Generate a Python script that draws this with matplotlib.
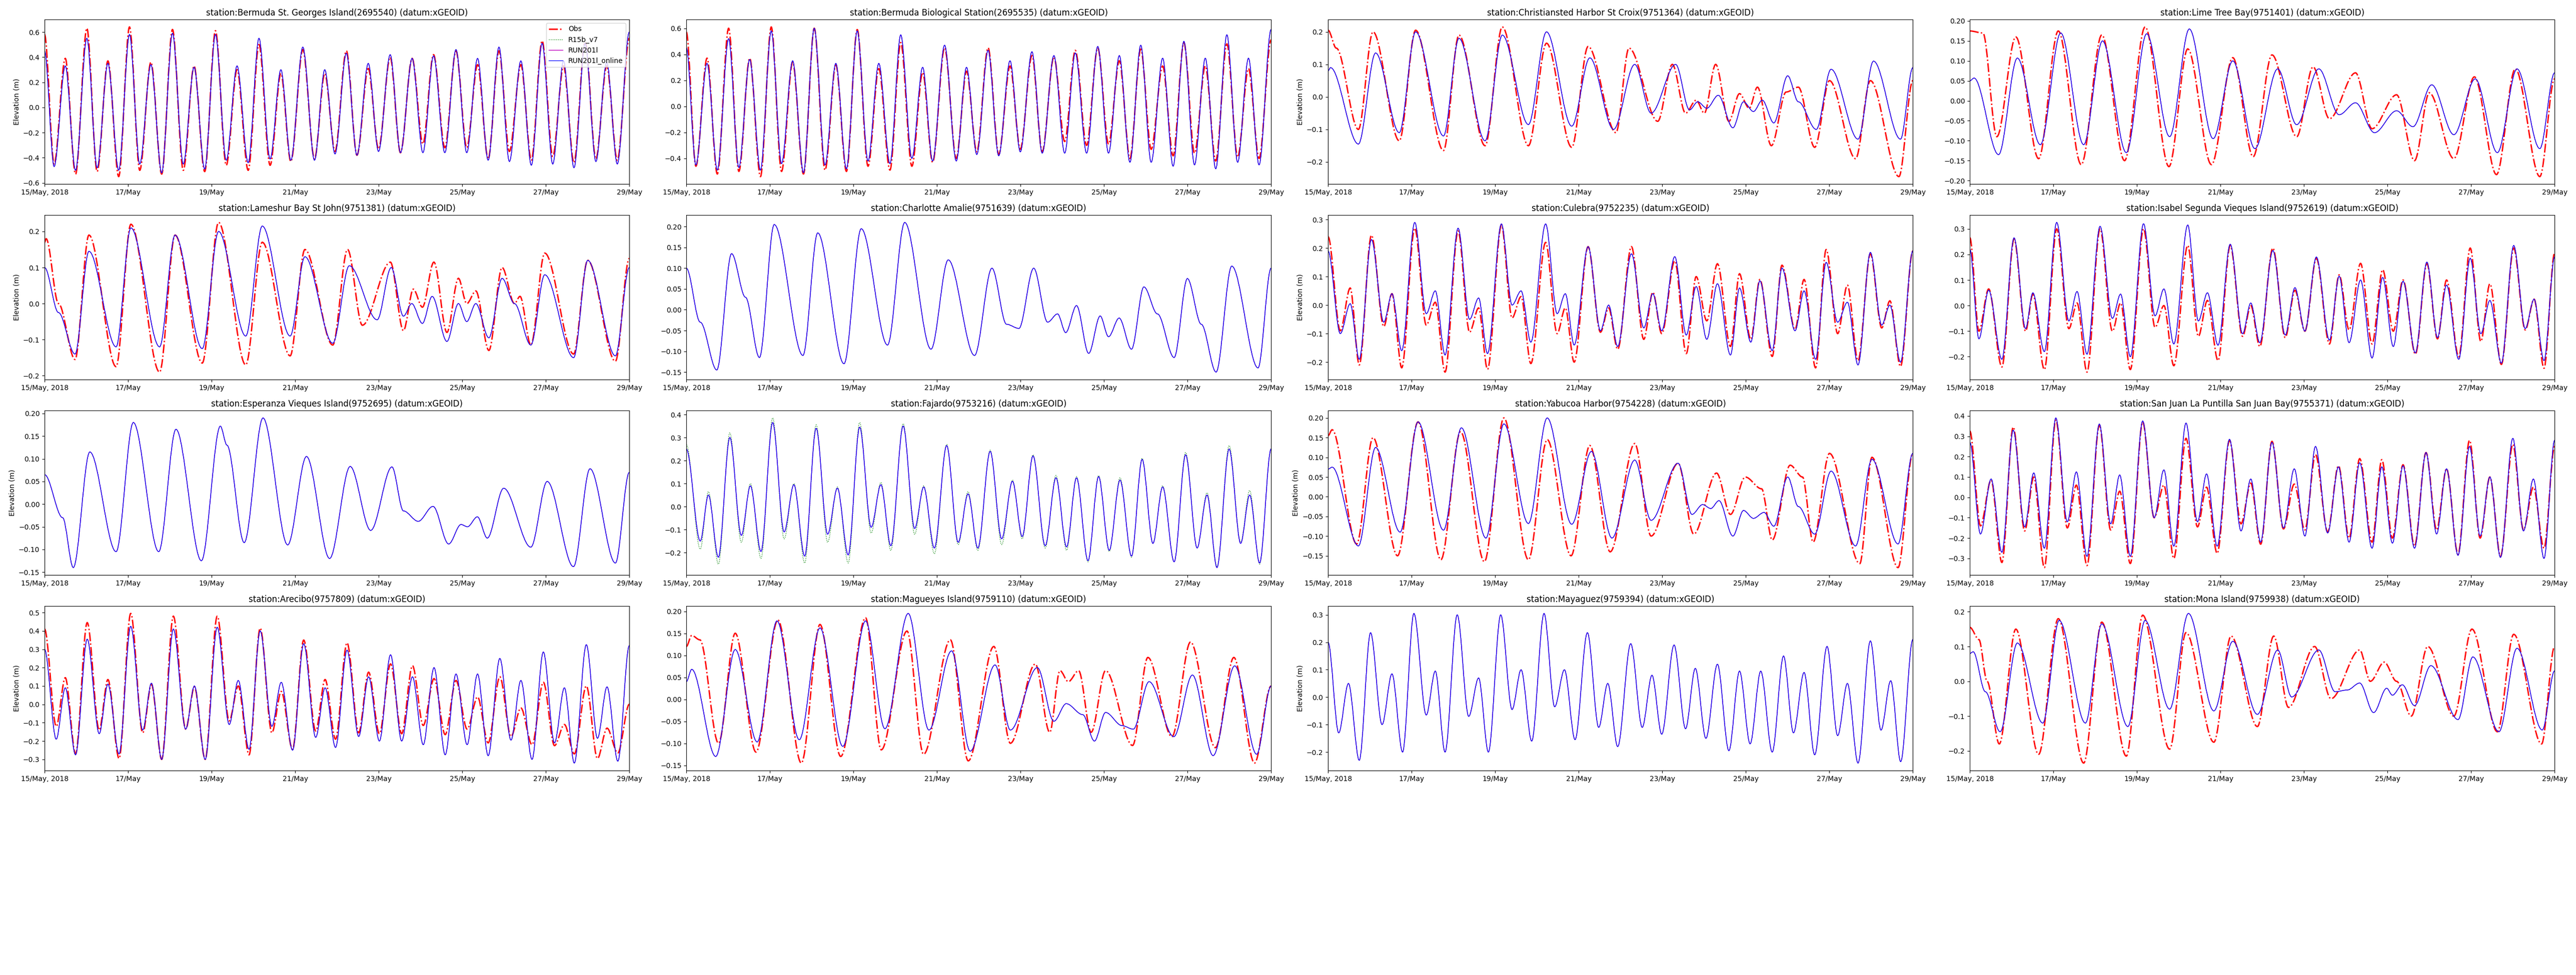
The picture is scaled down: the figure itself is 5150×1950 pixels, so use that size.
import numpy as np
import matplotlib
matplotlib.use("Agg")
import matplotlib.pyplot as plt
from matplotlib.gridspec import GridSpec
from matplotlib.lines import Line2D
from matplotlib.path import Path
from matplotlib.patches import PathPatch

# turning points (hours after 15/May 00:00, elevation in m)

T_BDA = [0, 5.5, 11.9, 17.8, 24.3, 30.2, 36.4, 42.6, 48.8, 54.7,
         61.1, 67.3, 73.5, 79.7, 85.9, 92.0, 98.2, 104.4, 110.6, 117.0,
         123.2, 129.6, 135.8, 141.5, 148.4, 155.1, 161.0, 166.9, 173.4, 179.5,
         186.0, 191.9, 198.6, 204.5, 211.2, 217.4, 223.5, 230.0, 236.4, 242.6,
         248.8, 254.9, 261.1, 267.1, 273.7, 279.7, 285.9, 292.0, 298.2, 304.2,
         310.6, 316.8, 323.0, 329.1, 336]

M_BDA_SG = [0.45, -0.47, 0.33, -0.50, 0.55, -0.48, 0.35, -0.50, 0.58, -0.45,
            0.34, -0.52, 0.59, -0.45, 0.32, -0.49, 0.58, -0.42, 0.33, -0.44,
            0.55, -0.41, 0.30, -0.42, 0.48, -0.42, 0.30, -0.37, 0.43, -0.38,
            0.35, -0.35, 0.42, -0.36, 0.39, -0.36, 0.41, -0.36, 0.46, -0.36,
            0.39, -0.42, 0.48, -0.43, 0.37, -0.46, 0.51, -0.45, 0.37, -0.48,
            0.51, -0.43, 0.36, -0.45, 0.60]
O_BDA_SG = [0.58, -0.45, 0.39, -0.53, 0.63, -0.51, 0.37, -0.55, 0.64, -0.50,
            0.36, -0.53, 0.62, -0.50, 0.33, -0.51, 0.61, -0.46, 0.30, -0.50,
            0.50, -0.46, 0.27, -0.43, 0.46, -0.41, 0.27, -0.35, 0.45, -0.38,
            0.31, -0.33, 0.40, -0.36, 0.39, -0.29, 0.42, -0.32, 0.45, -0.32,
            0.34, -0.41, 0.45, -0.35, 0.34, -0.42, 0.53, -0.39, 0.33, -0.44,
            0.52, -0.41, 0.33, -0.42, 0.55]

M_BDA_BIO = [0.45, -0.45, 0.33, -0.49, 0.52, -0.47, 0.36, -0.49, 0.58, -0.44,
             0.35, -0.51, 0.60, -0.45, 0.33, -0.48, 0.58, -0.42, 0.33, -0.44,
             0.55, -0.40, 0.30, -0.42, 0.47, -0.42, 0.30, -0.37, 0.43, -0.38,
             0.35, -0.35, 0.42, -0.36, 0.39, -0.36, 0.41, -0.36, 0.46, -0.36,
             0.39, -0.43, 0.47, -0.43, 0.37, -0.46, 0.50, -0.45, 0.37, -0.48,
             0.55, -0.43, 0.37, -0.45, 0.59]
O_BDA_BIO = [0.57, -0.46, 0.37, -0.52, 0.60, -0.50, 0.37, -0.54, 0.61, -0.50,
             0.34, -0.52, 0.60, -0.49, 0.32, -0.50, 0.59, -0.46, 0.29, -0.49,
             0.49, -0.46, 0.26, -0.43, 0.45, -0.40, 0.27, -0.35, 0.45, -0.37,
             0.31, -0.33, 0.39, -0.35, 0.38, -0.27, 0.43, -0.30, 0.45, -0.29,
             0.35, -0.40, 0.44, -0.33, 0.31, -0.38, 0.49, -0.36, 0.31, -0.42,
             0.48, -0.39, 0.29, -0.40, 0.51]

TM_CHR = [0, 1.4, 17.4, 27.3, 40.9, 50.3, 66.3, 75.2, 90.2, 100.1,
          115.1, 125.5, 140.0, 150.4, 164.0, 176.2, 185.6, 199.7, 207.7, 212.4,
          217.6, 224.2, 232.6, 238.7, 244.4, 249.5, 256.1, 264.1, 270.2, 280.5,
          289.0, 304.5, 313.4, 328.9, 336]
M_CHR = [0.08, 0.09, -0.145, 0.135, -0.11, 0.20, -0.12, 0.18, -0.135, 0.19,
         -0.085, 0.20, -0.09, 0.12, -0.10, 0.10, -0.05, 0.10, -0.04, -0.015,
         -0.035, 0.005, -0.095, -0.015, -0.045, -0.01, -0.08, 0.065, -0.015, -0.10,
         0.085, -0.13, 0.11, -0.13, 0.09]
TO_CHR = [0, 4.7, 17.4, 25.8, 40.9, 50.3, 66.3, 75.2, 90.2, 100.1,
          115.1, 125.5, 140.0, 149.4, 165.4, 172.9, 189.4, 197.8, 205.4, 211.5,
          216.2, 222.7, 230.3, 236.4, 242.0, 246.7, 254.7, 263.2, 270.2, 279.6,
          288.1, 303.1, 311.6, 328.0, 336]
O_CHR = [0.205, 0.15, -0.10, 0.20, -0.135, 0.205, -0.165, 0.19, -0.15, 0.215,
         -0.15, 0.165, -0.155, 0.155, -0.11, 0.15, -0.075, 0.10, -0.05, -0.01,
         -0.05, 0.10, -0.075, 0.01, -0.035, 0.03, -0.15, 0.015, 0.03, -0.155,
         0.05, -0.19, 0.05, -0.245, 0.05]

TM_LTB = [0, 2.4, 16.5, 27.3, 40.5, 52.2, 65.4, 76.2, 89.9, 101.6,
          114.8, 126.1, 139.8, 151.1, 163.8, 176.9, 187.8, 200.5, 212.2, 221.6,
          232.5, 245.2, 254.6, 265.4, 278.1, 290.4, 303.1, 314.4, 327.5, 336]
M_LTB = [0.05, 0.057, -0.135, 0.107, -0.11, 0.17, -0.11, 0.15, -0.13, 0.168,
         -0.09, 0.18, -0.095, 0.10, -0.12, 0.08, -0.06, 0.08, -0.035, -0.005,
         -0.08, -0.025, -0.065, 0.04, -0.085, 0.055, -0.13, 0.08, -0.12, 0.07]
TO_LTB = [0, 7.5, 15.5, 26.4, 39.5, 50.8, 64.0, 75.8, 88.9, 100.7,
          114.4, 125.2, 138.8, 151.1, 162.8, 173.6, 187.8, 197.2, 206.6, 221.6,
          231.1, 245.2, 255.5, 264.0, 278.1, 289.9, 302.6, 313.4, 327.5, 336]
O_LTB = [0.175, 0.17, -0.09, 0.16, -0.145, 0.175, -0.16, 0.165, -0.15, 0.185,
         -0.165, 0.13, -0.16, 0.108, -0.14, 0.115, -0.09, 0.085, -0.045, 0.07,
         -0.07, 0.015, -0.15, 0.02, -0.145, 0.06, -0.185, 0.08, -0.19, 0.055]

TM_LAM = [0, 8.0, 17.5, 25.5, 41.1, 49.6, 66.1, 75.0, 90.6, 100.0,
          115.6, 125.1, 141.1, 149.6, 165.6, 175.1, 191.1, 199.2, 206.2, 211.0,
          217.1, 222.7, 231.2, 237.8, 242.6, 247.8, 255.3, 262.9, 270.0, 279.4,
          287.4, 304.0, 312.1, 328.0, 336]
M_LAM = [0.10, -0.025, -0.14, 0.145, -0.12, 0.21, -0.12, 0.19, -0.125, 0.20,
         -0.09, 0.215, -0.09, 0.13, -0.11, 0.105, -0.045, 0.10, -0.035, 0.0,
         -0.055, 0.02, -0.105, 0.0, -0.05, 0.0, -0.095, 0.07, 0.0, -0.115,
         0.08, -0.15, 0.12, -0.145, 0.10]
TO_LAM = [0, 0.9, 8.0, 17.5, 25.5, 41.1, 49.6, 66.1, 75.0, 90.6,
          100.0, 115.6, 125.1, 141.1, 149.6, 165.6, 174.1, 182.6, 198.7, 206.2,
          211.9, 217.1, 223.7, 231.2, 237.8, 242.6, 247.8, 255.3, 262.9, 270.0,
          273.2, 279.4, 287.4, 304.0, 312.1, 328.0, 336]
O_LAM = [0.17, 0.18, 0.0, -0.155, 0.19, -0.175, 0.22, -0.19, 0.19, -0.165,
         0.225, -0.17, 0.17, -0.145, 0.15, -0.115, 0.15, -0.06, 0.115, -0.075,
         0.04, -0.01, 0.115, -0.08, 0.07, 0.0, 0.035, -0.13, 0.10, 0.0,
         0.02, -0.115, 0.14, -0.14, 0.12, -0.16, 0.125]

TM_CHA = [0, 8.0, 17.5, 26.0, 34.0, 42.0, 50.5, 67.0, 75.5, 90.6,
          100.5, 115.6, 125.5, 140.6, 150.5, 165.6, 175.6, 184.0, 191.1, 199.6,
          207.6, 213.3, 218.0, 224.2, 231.2, 237.8, 242.6, 248.7, 255.8, 262.9,
          270.7, 280.3, 287.9, 295.9, 304.4, 313.4, 328.5, 336]
M_CHA = [0.10, -0.03, -0.145, 0.135, 0.03, -0.115, 0.205, -0.11, 0.185, -0.13,
         0.195, -0.085, 0.21, -0.095, 0.12, -0.11, 0.10, -0.035, -0.045, 0.10,
         -0.03, -0.01, -0.055, 0.01, -0.105, -0.015, -0.065, -0.02, -0.095, 0.055,
         -0.01, -0.115, 0.075, -0.035, -0.15, 0.105, -0.14, 0.10]

T_CUL = [0, 7.0, 12.7, 17.9, 24.9, 32.0, 36.7, 42.3, 49.8, 56.4,
         61.6, 67.2, 74.7, 81.3, 86.5, 91.6, 99.6, 105.7, 110.9, 116.5,
         125.0, 131.6, 136.3, 141.4, 149.4, 156.5, 161.2, 166.4, 174.3, 181.4,
         186.6, 191.7, 199.2, 205.8, 211.5, 217.6, 223.7, 231.2, 236.4, 242.9,
         248.1, 255.2, 260.8, 268.3, 273.5, 280.1, 286.2, 292.8, 298.4, 304.5,
         311.6, 318.1, 322.8, 328.9, 336]
M_CUL = [0.19, -0.10, 0.005, -0.19, 0.23, -0.06, 0.04, -0.16, 0.29, -0.03,
         0.05, -0.175, 0.27, -0.05, 0.025, -0.17, 0.285, 0.0, 0.05, -0.13,
         0.285, -0.03, 0.04, -0.14, 0.205, -0.09, 0.0, -0.145, 0.18, -0.08,
         0.04, -0.09, 0.17, -0.105, 0.065, -0.12, 0.075, -0.175, 0.06, -0.13,
         0.085, -0.16, 0.13, -0.09, 0.05, -0.19, 0.15, -0.06, 0.01, -0.21,
         0.185, -0.07, 0.0, -0.20, 0.19]
O_CUL = [0.24, -0.09, 0.06, -0.21, 0.245, -0.075, 0.04, -0.22, 0.27, -0.07,
         0.01, -0.235, 0.26, -0.095, -0.01, -0.225, 0.28, -0.045, 0.03, -0.205,
         0.22, -0.10, -0.01, -0.20, 0.205, -0.095, -0.01, -0.155, 0.205, -0.12,
         0.045, -0.10, 0.155, -0.17, 0.10, -0.055, 0.145, -0.145, 0.11, -0.12,
         0.09, -0.18, 0.14, -0.085, 0.09, -0.22, 0.195, -0.10, 0.07, -0.195,
         0.18, -0.08, 0.015, -0.215, 0.19]

T_ISA = [0, 5.2, 10.8, 18.4, 25.4, 32.0, 36.2, 42.8, 49.9, 56.9,
         61.6, 67.3, 74.8, 81.9, 86.6, 92.2, 99.8, 106.4, 111.5, 117.2,
         125.2, 131.3, 136.5, 142.6, 149.6, 156.7, 161.4, 166.6, 174.1, 181.2,
         186.8, 192.5, 199.1, 206.6, 212.2, 217.9, 224.5, 231.1, 237.2, 243.3,
         248.9, 256.0, 262.6, 268.7, 273.9, 280.9, 287.5, 293.6, 298.8, 305.4,
         312.5, 319.1, 324.2, 329.9, 336]
M_ISA = [0.22, -0.13, 0.06, -0.21, 0.265, -0.09, 0.05, -0.18, 0.325, -0.06,
         0.055, -0.19, 0.31, -0.05, 0.045, -0.20, 0.32, -0.04, 0.065, -0.15,
         0.315, -0.06, 0.05, -0.155, 0.24, -0.11, 0.01, -0.145, 0.215, -0.115,
         0.07, -0.10, 0.19, -0.135, 0.115, -0.145, 0.10, -0.205, 0.11, -0.16,
         0.095, -0.185, 0.17, -0.125, 0.08, -0.21, 0.185, -0.11, 0.02, -0.225,
         0.235, -0.09, 0.025, -0.215, 0.19]
O_ISA = [0.265, -0.10, 0.065, -0.24, 0.26, -0.10, 0.045, -0.25, 0.30, -0.09,
         0.01, -0.26, 0.30, -0.10, 0.01, -0.25, 0.30, -0.085, 0.0, -0.235,
         0.235, -0.12, 0.02, -0.215, 0.235, -0.12, 0.0, -0.16, 0.225, -0.125,
         0.06, -0.10, 0.185, -0.15, 0.12, -0.095, 0.165, -0.15, 0.14, -0.10,
         0.10, -0.19, 0.165, -0.13, 0.10, -0.20, 0.225, -0.14, 0.085, -0.23,
         0.225, -0.095, 0.025, -0.245, 0.205]

TM_ESP = [0, 10.4, 16.5, 26.0, 41.1, 51.0, 65.6, 75.5, 90.1, 101.0,
          104.8, 114.7, 125.5, 139.7, 150.5, 163.8, 175.6, 187.4, 199.6, 206.2,
          214.7, 223.2, 232.2, 239.3, 243.0, 248.7, 254.4, 263.8, 279.4, 288.8,
          303.9, 313.4, 328.0, 336]
M_ESP = [0.065, -0.03, -0.14, 0.115, -0.105, 0.18, -0.105, 0.165, -0.125, 0.172,
         0.13, -0.085, 0.19, -0.09, 0.105, -0.12, 0.083, -0.058, 0.082, -0.015,
         -0.038, -0.005, -0.088, -0.045, -0.05, -0.028, -0.075, 0.035, -0.095, 0.05,
         -0.138, 0.078, -0.13, 0.07]

T_FAJ = [0, 8.0, 12.7, 18.4, 25.0, 31.6, 36.8, 42.9, 49.6, 56.2,
         61.8, 68.0, 74.6, 81.2, 86.8, 93.0, 99.6, 106.2, 111.8, 117.5,
         124.6, 131.2, 136.4, 142.5, 149.6, 156.2, 161.9, 167.5, 174.6, 181.2,
         187.4, 193.0, 199.2, 206.2, 212.4, 218.5, 224.2, 230.8, 236.9, 243.0,
         249.2, 255.8, 261.9, 268.1, 273.7, 280.3, 286.9, 293.5, 299.2, 304.9,
         311.9, 318.5, 323.7, 329.4, 336]
M_FAJ = [0.25, -0.15, 0.05, -0.22, 0.30, -0.125, 0.09, -0.195, 0.365, -0.11,
         0.095, -0.215, 0.34, -0.12, 0.08, -0.21, 0.345, -0.09, 0.095, -0.17,
         0.35, -0.095, 0.085, -0.18, 0.265, -0.155, 0.055, -0.18, 0.24, -0.14,
         0.11, -0.13, 0.22, -0.17, 0.125, -0.175, 0.125, -0.235, 0.13, -0.19,
         0.115, -0.215, 0.205, -0.16, 0.085, -0.24, 0.225, -0.18, 0.05, -0.265,
         0.25, -0.16, 0.05, -0.245, 0.25]
G_FAJ = [0.27, -0.185, 0.065, -0.25, 0.32, -0.155, 0.10, -0.225, 0.385, -0.14,
         0.10, -0.245, 0.355, -0.155, 0.085, -0.245, 0.365, -0.115, 0.105, -0.19,
         0.36, -0.12, 0.09, -0.205, 0.27, -0.165, 0.065, -0.19, 0.245, -0.165,
         0.115, -0.14, 0.225, -0.18, 0.135, -0.19, 0.13, -0.24, 0.135, -0.195,
         0.125, -0.22, 0.21, -0.16, 0.09, -0.24, 0.235, -0.18, 0.06, -0.26,
         0.265, -0.155, 0.07, -0.25, 0.25]

TM_YAB = [0, 2.3, 17.4, 27.3, 41.4, 51.7, 66.3, 76.6, 90.7, 101.0,
          115.1, 125.9, 140.0, 151.3, 163.1, 176.2, 185.6, 201.1, 209.1, 215.2,
          219.9, 224.6, 232.6, 238.7, 244.4, 250.5, 256.1, 264.1, 270.2, 279.6,
          289.0, 303.1, 312.5, 327.5, 336]
M_YAB = [0.07, 0.075, -0.125, 0.125, -0.09, 0.19, -0.085, 0.175, -0.105, 0.185,
         -0.068, 0.20, -0.07, 0.115, -0.105, 0.093, -0.06, 0.085, -0.045, -0.02,
         -0.03, -0.01, -0.10, -0.035, -0.055, -0.04, -0.075, 0.05, -0.025, -0.095,
         0.065, -0.125, 0.095, -0.12, 0.11]
TO_YAB = [0, 2.3, 16.4, 25.8, 39.9, 51.7, 64.8, 76.1, 89.8, 101.0,
          115.1, 125.9, 139.6, 150.4, 162.1, 176.2, 185.6, 201.1, 210.1, 223.2,
          231.2, 239.7, 249.1, 255.2, 265.5, 272.6, 278.7, 288.1, 305.5, 312.5,
          327.5, 336]
O_YAB = [0.155, 0.17, -0.12, 0.15, -0.15, 0.19, -0.16, 0.165, -0.165, 0.20,
         -0.16, 0.145, -0.15, 0.13, -0.14, 0.135, -0.10, 0.085, -0.095, 0.06,
         -0.045, 0.05, 0.02, -0.11, 0.08, 0.05, -0.115, 0.11, -0.17, 0.10,
         -0.18, 0.11]

T_SJU = [0, 6.1, 12.2, 18.4, 24.9, 31.5, 36.7, 42.8, 49.4, 56.0,
         61.2, 67.3, 74.4, 80.9, 86.1, 92.2, 99.3, 105.9, 111.5, 117.2,
         124.2, 130.8, 136.0, 142.1, 149.2, 155.8, 161.4, 167.1, 173.6, 180.2,
         186.4, 192.5, 198.6, 205.6, 211.8, 217.9, 224.0, 231.1, 236.7, 242.8,
         248.9, 255.5, 262.1, 268.2, 273.9, 280.5, 287.1, 293.2, 298.8, 304.9,
         312.0, 318.1, 323.8, 329.9, 336]
M_SJU = [0.27, -0.18, 0.09, -0.27, 0.33, -0.145, 0.12, -0.25, 0.39, -0.12,
         0.125, -0.29, 0.36, -0.13, 0.11, -0.29, 0.375, -0.10, 0.135, -0.24,
         0.365, -0.12, 0.115, -0.24, 0.285, -0.165, 0.09, -0.22, 0.27, -0.15,
         0.14, -0.19, 0.25, -0.175, 0.15, -0.22, 0.17, -0.25, 0.15, -0.225,
         0.155, -0.25, 0.22, -0.18, 0.14, -0.285, 0.25, -0.19, 0.10, -0.295,
         0.29, -0.165, 0.09, -0.30, 0.28]
O_SJU = [0.325, -0.14, 0.085, -0.32, 0.345, -0.165, 0.10, -0.345, 0.38, -0.15,
         0.06, -0.335, 0.355, -0.16, 0.03, -0.325, 0.37, -0.10, 0.06, -0.30,
         0.29, -0.145, 0.05, -0.275, 0.28, -0.13, 0.07, -0.23, 0.275, -0.155,
         0.065, -0.16, 0.21, -0.17, 0.155, -0.20, 0.19, -0.22, 0.185, -0.20,
         0.16, -0.24, 0.22, -0.16, 0.14, -0.28, 0.28, -0.20, 0.10, -0.29,
         0.26, -0.16, 0.05, -0.25, 0.25]

T_ARE = [0, 6.7, 11.9, 17.8, 24.5, 31.4, 36.4, 42.8, 49.5, 56.4,
         61.4, 67.3, 74.0, 81.1, 86.1, 92.3, 99.2, 106.1, 111.3, 117.5,
         123.9, 130.6, 136.0, 142.5, 148.9, 155.8, 161.2, 167.2, 173.8, 180.5,
         186.2, 192.4, 198.8, 205.2, 211.4, 217.6, 223.8, 230.2, 236.4, 242.8,
         248.8, 254.9, 261.6, 268.0, 273.7, 280.1, 286.6, 293.0, 298.7, 304.4,
         311.3, 317.7, 323.2, 329.4, 336]
M_ARE = [0.30, -0.19, 0.09, -0.275, 0.355, -0.16, 0.11, -0.27, 0.425, -0.14,
         0.115, -0.30, 0.41, -0.135, 0.10, -0.30, 0.42, -0.11, 0.13, -0.245,
         0.40, -0.12, 0.12, -0.25, 0.33, -0.18, 0.09, -0.235, 0.295, -0.175,
         0.15, -0.20, 0.27, -0.20, 0.15, -0.22, 0.20, -0.275, 0.165, -0.22,
         0.165, -0.28, 0.25, -0.195, 0.13, -0.30, 0.285, -0.21, 0.09, -0.32,
         0.325, -0.185, 0.095, -0.31, 0.32]
O_ARE = [0.41, -0.12, 0.145, -0.27, 0.445, -0.14, 0.135, -0.295, 0.495, -0.155,
         0.11, -0.30, 0.48, -0.135, 0.095, -0.30, 0.48, -0.09, 0.10, -0.275,
         0.415, -0.155, 0.07, -0.245, 0.35, -0.145, 0.135, -0.19, 0.335, -0.155,
         0.175, -0.16, 0.22, -0.16, 0.21, -0.115, 0.14, -0.165, 0.13, -0.135,
         0.04, -0.21, 0.15, -0.175, -0.02, -0.22, 0.12, -0.225, -0.11, -0.27,
         0.10, -0.295, -0.13, -0.265, 0.0]

TM_MAG = [0, 3.1, 16.9, 28.1, 40.7, 52.1, 64.9, 76.8, 89.9, 103.0,
          114.1, 127.5, 139.4, 152.4, 163.1, 177.4, 186.2, 201.7, 211.2, 218.3,
          227.8, 234.5, 240.9, 250.4, 256.8, 265.9, 280.1, 290.8, 302.7, 315.1,
          327.7, 336]
M_MAG = [0.04, 0.068, -0.13, 0.113, -0.097, 0.178, -0.092, 0.162, -0.107, 0.178,
         -0.067, 0.195, -0.07, 0.11, -0.118, 0.078, -0.07, 0.072, -0.05, -0.01,
         -0.035, -0.095, -0.03, -0.06, -0.068, 0.04, -0.085, 0.055, -0.128, 0.076,
         -0.125, 0.03]
TO_MAG = [0, 3.1, 7.8, 18.5, 28.1, 40.0, 52.6, 66.1, 76.8, 88.7,
          103.0, 112.0, 126.8, 136.3, 151.7, 162.0, 176.7, 186.2, 200.5, 208.8,
          214.7, 219.5, 225.4, 232.6, 240.9, 256.4, 265.2, 279.0, 289.7, 304.0,
          314.6, 326.5, 336]
O_MAG = [0.12, 0.145, 0.135, -0.10, 0.15, -0.12, 0.18, -0.145, 0.17, -0.13,
         0.185, -0.115, 0.155, -0.125, 0.135, -0.14, 0.12, -0.10, 0.08, -0.075,
         0.065, 0.04, 0.065, -0.075, 0.065, -0.105, 0.095, -0.085, 0.13, -0.11,
         0.095, -0.145, 0.03]

T_MAY = [0, 6.1, 11.7, 17.9, 24.4, 31.0, 36.7, 42.8, 49.3, 56.4,
         61.6, 67.2, 74.2, 80.8, 86.5, 92.1, 99.2, 105.7, 110.9, 117.0,
         124.1, 130.2, 135.8, 141.9, 149.0, 155.5, 160.7, 166.4, 173.9, 180.5,
         186.1, 191.7, 198.8, 205.4, 211.0, 217.1, 223.7, 230.3, 236.4, 242.5,
         248.6, 255.2, 261.7, 267.4, 273.5, 279.6, 286.7, 292.8, 298.4, 304.5,
         311.6, 317.7, 323.3, 329.0, 336]
M_MAY = [0.20, -0.13, 0.05, -0.23, 0.235, -0.10, 0.085, -0.20, 0.305, -0.065,
         0.095, -0.20, 0.30, -0.07, 0.07, -0.20, 0.30, -0.045, 0.10, -0.16,
         0.305, -0.035, 0.10, -0.155, 0.235, -0.11, 0.05, -0.18, 0.195, -0.11,
         0.08, -0.135, 0.19, -0.115, 0.105, -0.15, 0.12, -0.195, 0.095, -0.17,
         0.095, -0.20, 0.15, -0.13, 0.09, -0.21, 0.185, -0.14, 0.05, -0.24,
         0.205, -0.12, 0.06, -0.235, 0.21]

TM_MON = [0, 1.9, 8.9, 17.4, 27.3, 41.9, 51.3, 66.4, 75.8, 90.8,
          100.7, 114.8, 125.6, 140.2, 151.1, 165.2, 176.9, 184.9, 200.5, 209.9,
          216.9, 224.0, 232.0, 239.5, 242.8, 248.5, 255.5, 264.9, 280.5, 289.0,
          304.0, 314.4, 328.9, 336]
M_MON = [0.08, 0.085, -0.03, -0.145, 0.11, -0.12, 0.175, -0.12, 0.165, -0.13,
         0.175, -0.08, 0.195, -0.085, 0.115, -0.095, 0.09, -0.045, 0.09, -0.03,
         -0.025, -0.005, -0.09, -0.02, -0.04, -0.01, -0.07, 0.045, -0.11, 0.07,
         -0.145, 0.095, -0.14, 0.03]
TO_MON = [0, 5.2, 9.9, 16.9, 26.4, 39.5, 50.8, 65.4, 75.8, 89.9,
          99.3, 114.8, 124.2, 140.2, 150.1, 165.2, 174.6, 183.1, 198.1, 207.5,
          224.0, 230.1, 238.1, 245.2, 253.6, 263.1, 278.1, 288.5, 303.1, 312.5,
          328.5, 336]
O_MON = [0.155, 0.12, 0.0, -0.18, 0.15, -0.21, 0.18, -0.235, 0.17, -0.215,
         0.19, -0.195, 0.14, -0.175, 0.13, -0.13, 0.13, -0.075, 0.10, -0.05,
         0.09, 0.0, 0.055, 0.0, -0.10, 0.10, -0.10, 0.15, -0.145, 0.135,
         -0.18, 0.10]

TICK_DAYS = [0, 2, 4, 6, 8, 10, 12, 14]
TICK_LABELS = ["15/May, 2018", "17/May", "19/May", "21/May",
               "23/May", "25/May", "27/May", "29/May"]
SERIES = ["Obs", "R15b_v7", "RUN201l", "RUN201l_online"]

# (title, model, obs, R15b_v7 if it differs from the model)
STATIONS = [
    ("Bermuda St. Georges Island(2695540)", (T_BDA, M_BDA_SG), (T_BDA, O_BDA_SG), None),
    ("Bermuda Biological Station(2695535)", (T_BDA, M_BDA_BIO), (T_BDA, O_BDA_BIO), None),
    ("Christiansted Harbor St Croix(9751364)", (TM_CHR, M_CHR), (TO_CHR, O_CHR), None),
    ("Lime Tree Bay(9751401)", (TM_LTB, M_LTB), (TO_LTB, O_LTB), None),
    ("Lameshur Bay St John(9751381)", (TM_LAM, M_LAM), (TO_LAM, O_LAM), None),
    ("Charlotte Amalie(9751639)", (TM_CHA, M_CHA), None, None),
    ("Culebra(9752235)", (T_CUL, M_CUL), (T_CUL, O_CUL), None),
    ("Isabel Segunda Vieques Island(9752619)", (T_ISA, M_ISA), (T_ISA, O_ISA), None),
    ("Esperanza Vieques Island(9752695)", (TM_ESP, M_ESP), None, None),
    ("Fajardo(9753216)", (T_FAJ, M_FAJ), None, (T_FAJ, G_FAJ)),
    ("Yabucoa Harbor(9754228)", (TM_YAB, M_YAB), (TO_YAB, O_YAB), None),
    ("San Juan La Puntilla San Juan Bay(9755371)", (T_SJU, M_SJU), (T_SJU, O_SJU), None),
    ("Arecibo(9757809)", (T_ARE, M_ARE), (T_ARE, O_ARE), None),
    ("Magueyes Island(9759110)", (TM_MAG, M_MAG), (TO_MAG, O_MAG), None),
    ("Mayaguez(9759394)", (T_MAY, M_MAY), None, None),
    ("Mona Island(9759938)", (TM_MON, M_MON), (TO_MON, O_MON), None),
]

STYLE = {
    "Obs": dict(color="r", linestyle="-.", linewidth=2),
    "R15b_v7": dict(color="g", linestyle=":", linewidth=1),
    "RUN201l": dict(color="m", linestyle="-", linewidth=1),
    "RUN201l_online": dict(color="b", linestyle="-", linewidth=0.9),
}


def tide_path(t, v):
    """
    Smooth path through the turning points: cubic segments with a flat
    tangent at every high / low water.
    """
    t = np.asarray(t, dtype=float)
    v = np.asarray(v, dtype=float)
    verts = [(t[0], v[0])]
    codes = [Path.MOVETO]
    for i in range(len(t) - 1):
        dt = t[i + 1] - t[i]
        verts += [(t[i] + dt / 3, v[i]), (t[i + 1] - dt / 3, v[i + 1]), (t[i + 1], v[i + 1])]
        codes += [Path.CURVE4] * 3
    return Path(verts, codes)


def series__draw(ax, tv, key):
    ax.add_patch(PathPatch(tide_path(*tv), fill=False, capstyle="butt", **STYLE[key]))


def station__plot(ax, name, model, obs, green, ylabel=False, legend=False):
    if obs is not None:
        series__draw(ax, obs, "Obs")
    series__draw(ax, model if green is None else green, "R15b_v7")
    series__draw(ax, model, "RUN201l")
    series__draw(ax, model, "RUN201l_online")
    ax.autoscale_view()

    ticks = np.array(TICK_DAYS) * 24
    ax.set_xlim(ticks[0], ticks[-1])
    ax.set_xticks(ticks)
    ax.set_xticklabels(TICK_LABELS)
    ax.set_title("station:" + name + " (datum:xGEOID)", fontsize=12)
    if ylabel:
        ax.set_ylabel("Elevation (m)")
    if legend:
        handles = [Line2D([], [], **STYLE[k]) for k in SERIES]
        ax.legend(handles, SERIES, loc="upper right")


fig = plt.figure(figsize=(51.5, 19.5), dpi=100)
gs = GridSpec(5, 4, figure=fig, left=0.0173, right=0.9917, top=0.98, bottom=0.0092,
              hspace=0.188, wspace=0.0975)

for i, (name, model, obs, green) in enumerate(STATIONS):
    ax = fig.add_subplot(gs[i // 4, i % 4])
    station__plot(ax, name, model, obs, green, ylabel=(i % 4) in (0, 2), legend=(i == 0))

fig.savefig("out.png", dpi=100)
